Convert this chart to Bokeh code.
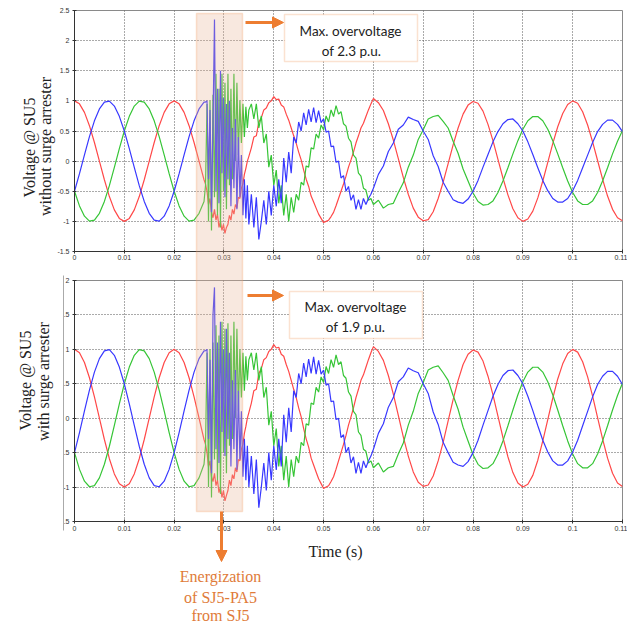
from math import pi
from bokeh.plotting import figure
from bokeh.layouts import column
from bokeh.models import (Range1d, FixedTicker, BoxAnnotation, Label, Arrow, NormalHead,
                          InlineStyleSheet)
from bokeh.embed import file_html
from bokeh.resources import INLINE

# ---------------- data (time in s, voltage in p.u.) ----------------
T_STEADY = [0.000, 0.001, 0.002, 0.003, 0.004, 0.005, 0.006, 0.007, 0.008, 0.009,
            0.010, 0.011, 0.012, 0.013, 0.014, 0.015, 0.016, 0.017, 0.018, 0.019,
            0.020, 0.021, 0.022, 0.023, 0.024, 0.025, 0.026]
T_SWITCH = [0.0263, 0.0266, 0.0269, 0.0272, 0.0275, 0.0278, 0.0281, 0.0284, 0.0287, 0.0290,
            0.0293, 0.0296, 0.0299, 0.0302, 0.0305, 0.0308, 0.0311, 0.0314, 0.0317, 0.0320,
            0.0323, 0.0326, 0.0329, 0.0332, 0.0335, 0.0338, 0.0341, 0.0344, 0.0347, 0.0350]
T_DAMP = [0.0355, 0.0360, 0.0365, 0.0370, 0.0375, 0.0380, 0.0385, 0.0390, 0.0395, 0.0400,
          0.0405, 0.0410, 0.0415, 0.0420, 0.0425, 0.0430, 0.0435, 0.0440, 0.0445, 0.0450,
          0.0455, 0.0460, 0.0465, 0.0470, 0.0475, 0.0480, 0.0485, 0.0490, 0.0495, 0.0500,
          0.0505, 0.0510, 0.0515, 0.0520, 0.0525, 0.0530, 0.0535, 0.0540, 0.0545, 0.0550,
          0.0555, 0.0560, 0.0565, 0.0570, 0.0575, 0.0580, 0.0585, 0.0590, 0.0595, 0.0600]
T_POST = [0.061, 0.062, 0.063, 0.064, 0.065, 0.066, 0.067, 0.068, 0.069, 0.070,
          0.071, 0.072, 0.073, 0.074, 0.075, 0.076, 0.077, 0.078, 0.079, 0.080,
          0.081, 0.082, 0.083, 0.084, 0.085, 0.086, 0.087, 0.088, 0.089, 0.090,
          0.091, 0.092, 0.093, 0.094, 0.095, 0.096, 0.097, 0.098, 0.099, 0.100,
          0.101, 0.102, 0.103, 0.104, 0.105, 0.106, 0.107, 0.108, 0.109, 0.110]

RED_STEADY = [1.0, 0.951, 0.809, 0.588, 0.309, 0.0, -0.309, -0.588, -0.809, -0.951,
              -1.0, -0.951, -0.809, -0.588, -0.309, 0.0, 0.309, 0.588, 0.809, 0.951,
              1.0, 0.951, 0.809, 0.588, 0.309, 0.0, -0.309]
BLUE_STEADY = [-0.5, -0.208, 0.105, 0.407, 0.669, 0.866, 0.978, 0.995, 0.914, 0.743,
               0.5, 0.208, -0.105, -0.407, -0.669, -0.866, -0.978, -0.995, -0.914, -0.743,
               -0.5, -0.208, 0.105, 0.407, 0.669, 0.866, 0.978]
GREEN_STEADY = [-0.5, -0.743, -0.914, -0.995, -0.978, -0.866, -0.669, -0.407, -0.105, 0.208,
                0.5, 0.743, 0.914, 0.995, 0.978, 0.866, 0.669, 0.407, 0.105, -0.208,
                -0.5, -0.743, -0.914, -0.995, -0.978, -0.866, -0.669]

# switching transient, without surge arrester
RED_SWITCH_1 = [-0.38, -0.50, -0.72, -0.62, -0.85, -0.94, -0.80, -0.98, -0.88, -1.10,
                -1.00, -1.15, -1.05, -1.20, -1.10, -1.05, -0.90, -0.98, -0.80, -0.88,
                -0.72, -0.78, -0.60, -0.62, -0.45, -0.38, -0.22, -0.12, 0.00, 0.08]
BLUE_SWITCH_1 = [0.98, 1.00, -0.30, 0.85, -0.85, 0.60, 2.35, -0.50, 1.20, -0.70,
                 1.50, -0.20, 1.05, -0.60, 0.95, -0.30, 1.00, -0.75, 0.55, -0.45,
                 0.70, -0.80, 0.40, -0.60, 0.10, -0.90, -0.30, -0.95, -0.40, -1.05]
GREEN_SWITCH_1 = [-0.40, 0.95, -1.00, 1.00, -1.15, 1.10, -0.60, 1.45, -0.90, 1.20,
                  -1.10, 1.45, -0.50, 1.30, -0.80, 1.45, -0.40, 1.20, -0.30, 1.45,
                  0.00, 1.30, 0.10, 1.00, 0.30, 0.95, 0.40, 0.90, 0.55, 0.85]

# switching transient, with surge arrester
RED_SWITCH_2 = [-0.38, -0.50, -0.70, -0.62, -0.85, -0.92, -0.80, -0.98, -0.90, -1.08,
                -1.00, -1.15, -1.05, -1.20, -1.12, -1.05, -0.90, -0.98, -0.82, -0.88,
                -0.72, -0.78, -0.60, -0.62, -0.45, -0.38, -0.22, -0.12, 0.00, 0.08]
BLUE_SWITCH_2 = [0.98, 1.00, -0.30, 0.85, -0.80, 1.50, 1.90, -0.45, 1.10, -0.65,
                 1.40, -0.20, 1.00, -0.55, 1.30, -0.30, 0.95, -0.70, 0.55, -0.45,
                 0.70, -0.75, 0.40, -0.60, 0.10, -0.85, -0.30, -0.90, -0.40, -1.00]
GREEN_SWITCH_2 = [-0.40, 0.95, -1.00, 1.00, -1.15, 1.10, -0.60, 1.35, -0.90, 1.20,
                  -1.10, 1.40, -0.50, 1.30, -0.80, 1.38, -0.40, 1.20, -0.30, 1.40,
                  0.00, 1.30, 0.10, 1.00, 0.30, 0.95, 0.40, 0.90, 0.55, 0.85]

RED_DAMP = [0.22, 0.40, 0.42, 0.65, 0.72, 0.85, 0.88, 0.97, 1.00, 1.07,
            1.02, 1.03, 0.93, 0.90, 0.78, 0.68, 0.55, 0.42, 0.30, 0.15,
            0.02, -0.15, -0.30, -0.42, -0.58, -0.68, -0.78, -0.88, -0.95, -1.02,
            -1.00, -0.98, -0.92, -0.85, -0.74, -0.62, -0.50, -0.38, -0.25, -0.10,
            0.02, 0.15, 0.30, 0.42, 0.55, 0.63, 0.74, 0.85, 0.95, 1.04]
BLUE_DAMP = [-0.55, -1.10, -0.60, -1.30, -1.00, -0.65, -1.05, -0.50, -0.90, -0.40,
             -0.75, -0.30, -0.70, 0.05, -0.35, 0.15, -0.20, 0.40, 0.30, 0.65,
             0.50, 0.80, 0.60, 0.86, 0.65, 0.89, 0.64, 0.84, 0.64, 0.70,
             0.48, 0.50, 0.24, 0.25, -0.02, 0.00, -0.28, -0.24, -0.50, -0.42,
             -0.65, -0.56, -0.80, -0.64, -0.80, -0.62, -0.72, -0.62, -0.55, -0.45]
GREEN_DAMP = [0.95, 0.70, 0.95, 0.55, 0.75, 0.30, 0.45, -0.10, 0.10, -0.40,
              -0.15, -0.70, -0.40, -0.90, -0.55, -1.00, -0.60, -0.85, -0.55, -0.65,
              -0.35, -0.40, -0.08, -0.10, 0.22, 0.20, 0.45, 0.38, 0.60, 0.52,
              0.75, 0.65, 0.85, 0.74, 0.92, 0.78, 0.82, 0.62, 0.58, 0.38,
              0.32, 0.10, 0.05, -0.20, -0.25, -0.45, -0.48, -0.65, -0.62, -0.72]

RED_POST = [0.97, 0.84, 0.62, 0.35, 0.04, -0.27, -0.55, -0.78, -0.93, -0.99,
            -0.97, -0.84, -0.62, -0.35, -0.04, 0.27, 0.55, 0.78, 0.93, 0.99,
            0.96, 0.83, 0.61, 0.34, 0.03, -0.28, -0.56, -0.79, -0.94, -1.00,
            -0.96, -0.83, -0.61, -0.33, -0.02, 0.29, 0.57, 0.79, 0.94, 1.00,
            0.96, 0.82, 0.60, 0.32, 0.01, -0.30, -0.58, -0.80, -0.94, -0.99]
BLUE_POST = [-0.22, -0.08, 0.16, 0.30, 0.53, 0.60, 0.73, 0.69, 0.66, 0.50,
             0.36, 0.09, -0.09, -0.35, -0.50, -0.64, -0.68, -0.70, -0.63, -0.50,
             -0.32, -0.10, 0.11, 0.32, 0.49, 0.62, 0.69, 0.70, 0.62, 0.50,
             0.32, 0.11, -0.11, -0.32, -0.49, -0.62, -0.68, -0.68, -0.62, -0.49,
             -0.32, -0.11, 0.10, 0.31, 0.49, 0.61, 0.68, 0.68, 0.61, 0.49]
GREEN_POST = [-0.65, -0.78, -0.72, -0.70, -0.52, -0.36, -0.10, 0.10, 0.36, 0.52,
              0.70, 0.74, 0.76, 0.66, 0.55, 0.33, 0.13, -0.13, -0.33, -0.53,
              -0.67, -0.73, -0.72, -0.66, -0.52, -0.33, -0.11, 0.12, 0.34, 0.53,
              0.67, 0.74, 0.74, 0.67, 0.53, 0.34, 0.12, -0.11, -0.33, -0.52,
              -0.66, -0.72, -0.72, -0.66, -0.52, -0.33, -0.11, 0.12, 0.33, 0.51]

X_TICKS = [0, 0.01, 0.02, 0.03, 0.04, 0.05, 0.06, 0.07, 0.08, 0.09, 0.1, 0.11]
X_TICK_LABELS = ["0", "0.01", "0.02", "0.03", "0.04", "0.05", "0.06", "0.07",
                 "0.08", "0.09", "0.1", "0.11"]
Y1_TICKS = [-1.5, -1, -0.5, 0, 0.5, 1, 1.5, 2, 2.5]
Y1_TICK_LABELS = ["-1.5", "-1", "-0.5", "0", "0.5", "1", "1.5", "2", "2.5"]
Y2_TICKS = [-1.5, -1, -0.5, 0, 0.5, 1, 1.5, 2]
Y2_TICK_LABELS = [".5", "-1", ".5", "0", ".5", "1", ".5", "2"]

T_ALL = T_STEADY + T_SWITCH + T_DAMP + T_POST

RED = "#ff4848"
GREEN = "#36c536"
BLUE = "#3838ff"
ORANGE = "#ed7d31"
BOX_EDGE = "#f2a066"
SERIF = "Liberation Serif"
W = 627


def make_panel(y0, y1, height, top, bottom, y_ticks, y_labels, x_standoff, red, green, blue):
    p = figure(width=W, height=height, x_range=Range1d(0, 0.11), y_range=Range1d(y0, y1),
               output_backend="svg", toolbar_location=None,
               min_border_left=74, min_border_right=5, min_border_top=top, min_border_bottom=bottom,
               background_fill_color="white", border_fill_color="white",
               outline_line_color="#8a8a8a", outline_line_width=1)
    p.xaxis.ticker = FixedTicker(ticks=X_TICKS)
    p.xaxis.major_label_overrides = dict(zip(X_TICKS, X_TICK_LABELS))
    p.yaxis.ticker = FixedTicker(ticks=y_ticks)
    p.yaxis.major_label_overrides = dict(zip(y_ticks, y_labels))
    for ax in (p.xaxis[0], p.yaxis[0]):
        ax.axis_line_color = "#333333"
        ax.major_tick_line_color = "#333333"
        ax.major_tick_in = 2
        ax.major_tick_out = 2
        ax.minor_tick_in = 0
        ax.minor_tick_out = 0
        ax.major_label_text_font = "Liberation Sans"
        ax.major_label_text_font_size = "7px"
        ax.major_label_text_color = "#333333"
    p.xaxis.major_label_standoff = x_standoff
    p.yaxis.major_label_standoff = 3
    p.grid.grid_line_color = "#555555"
    p.grid.grid_line_dash = "1 2"
    p.grid.grid_line_width = 1
    p.line(T_ALL, red, line_color=RED, line_width=1.2)
    p.line(T_ALL, green, line_color=GREEN, line_width=1.2)
    p.line(T_ALL, blue, line_color=BLUE, line_width=1.2)
    return p


# ---------------- panel 1: without surge arrester ----------------
p1 = make_panel(-1.5, 2.5, 272, 10, 21, Y1_TICKS, Y1_TICK_LABELS, 1,
                RED_STEADY + RED_SWITCH_1 + RED_DAMP + RED_POST,
                GREEN_STEADY + GREEN_SWITCH_1 + GREEN_DAMP + GREEN_POST,
                BLUE_STEADY + BLUE_SWITCH_1 + BLUE_DAMP + BLUE_POST)

# ---------------- panel 2: with surge arrester ----------------
p2 = make_panel(-1.5, 2.0, 354, 8, 105, Y2_TICKS, Y2_TICK_LABELS, 2,
                RED_STEADY + RED_SWITCH_2 + RED_DAMP + RED_POST,
                GREEN_STEADY + GREEN_SWITCH_2 + GREEN_DAMP + GREEN_POST,
                BLUE_STEADY + BLUE_SWITCH_2 + BLUE_DAMP + BLUE_POST)

charts = column(p1, p2, spacing=0)

# ---------------- transparent overlay for callouts and titles (page pixels) ----------------
ov = figure(width=W, height=626, x_range=Range1d(0, W), y_range=Range1d(626, 0),
            x_axis_type=None, y_axis_type=None, output_backend="svg", toolbar_location=None,
            min_border=0, outline_line_color=None,
            background_fill_color=None, border_fill_color=None,
            styles={"position": "absolute", "left": "0px", "top": "0px", "z-index": "10"},
            stylesheets=[InlineStyleSheet(css=":host { position: absolute !important; "
                                              "left: 0px !important; top: 0px !important; "
                                              "z-index: 10; pointer-events: none; }")])
ov.grid.visible = False


def text(x, y, s, font, size, color, angle=0.0):
    ov.add_layout(Label(x=x, y=y, text=s, angle=angle, text_align="center",
                        text_baseline="middle", text_font=font, text_font_size=size,
                        text_color=color))


def arrow(x0, y0, x1, y1):
    ov.add_layout(Arrow(x_start=x0, y_start=y0, x_end=x1, y_end=y1, line_color=ORANGE,
                        line_width=3,
                        end=NormalHead(size=11, fill_color=ORANGE, line_color=ORANGE)))


# shaded energization window spanning both panels
ov.add_layout(BoxAnnotation(left=196, right=242, top=13, bottom=511,
                            fill_color="#e9b496", fill_alpha=0.3,
                            line_color=BOX_EDGE, line_width=1.5))
# cropped-edge line left of the lower panel
ov.add_layout(Arrow(x_start=63, y_start=275, x_end=63, y_end=530,
                    line_color="#aaaaaa", line_width=1, end=None))

# callout 1
arrow(245, 22, 283, 22)
ov.add_layout(BoxAnnotation(left=284, right=417, top=14, bottom=61,
                            fill_color="white", fill_alpha=1.0,
                            line_color=BOX_EDGE, line_width=1.5))
text(350, 30, "Max. overvoltage", "Lato", "13.5px", "#222222")
text(351, 50, "of 2.3 p.u.", "Lato", "13.5px", "#222222")

# callout 2
arrow(247, 295, 283, 295)
ov.add_layout(BoxAnnotation(left=289, right=422, top=291, bottom=338,
                            fill_color="white", fill_alpha=1.0,
                            line_color=BOX_EDGE, line_width=1.5))
text(355, 306, "Max. overvoltage", "Lato", "13.5px", "#222222")
text(355, 326, "of 1.9 p.u.", "Lato", "13.5px", "#222222")

# energization note
arrow(221, 511, 221, 561)
text(220, 576, "Energization", SERIF, "16px", "#e07b39")
text(220, 597, "of SJ5-PA5", SERIF, "16px", "#e07b39")
text(220, 615, "from SJ5", SERIF, "16px", "#e07b39")

# axis titles
text(335, 551, "Time (s)", SERIF, "16px", "#222222")
text(29, 147, "Voltage @ SU5", SERIF, "16px", "#222222", pi / 2)
text(45, 146, "without surge arrester", SERIF, "16px", "#222222", pi / 2)
text(25, 380, "Voltage @ SU5", SERIF, "16px", "#222222", pi / 2)
text(43, 381, "with surge arrester", SERIF, "16px", "#222222", pi / 2)

open("out.html", "w").write(file_html([charts, ov], INLINE))
